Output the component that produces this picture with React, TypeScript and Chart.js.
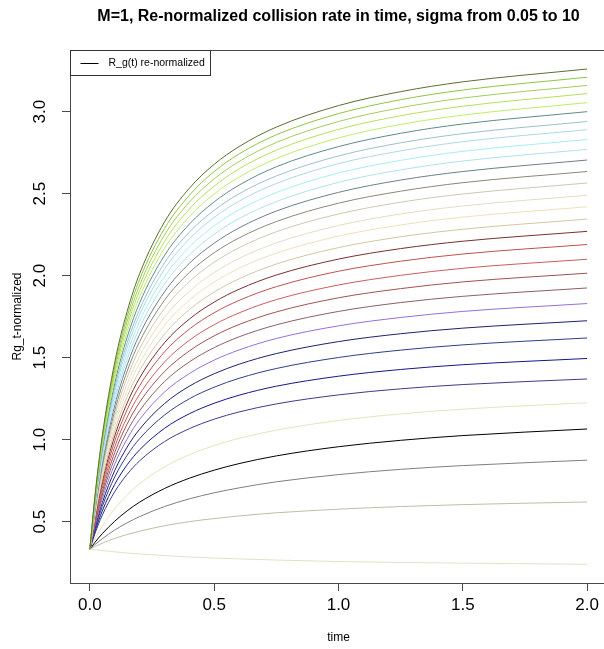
import React, { useEffect, useRef } from 'react';
import { Chart, registerables } from 'chart.js';

Chart.register(...registerables);

// Sample times (x) shared by every curve
const TIMES = [0, 0.02, 0.05, 0.1, 0.15, 0.2, 0.3, 0.4, 0.5, 0.6, 0.75, 1.0, 1.25, 1.5, 2.0];

// Re-normalized collision rate for each sigma, highest curve first
const rg01 = [0.333, 0.652, 1.027, 1.472, 1.783, 2.012, 2.327, 2.533, 2.679, 2.787, 2.906, 3.037, 3.122, 3.182, 3.26];
const rg02 = [0.333, 0.644, 1.011, 1.447, 1.752, 1.977, 2.287, 2.490, 2.635, 2.742, 2.859, 2.988, 3.073, 3.132, 3.21];
const rg03 = [0.333, 0.637, 0.995, 1.422, 1.721, 1.942, 2.248, 2.448, 2.590, 2.696, 2.812, 2.940, 3.024, 3.083, 3.16];
const rg04 = [0.333, 0.629, 0.979, 1.397, 1.691, 1.908, 2.208, 2.406, 2.546, 2.651, 2.765, 2.892, 2.975, 3.033, 3.11];
const rg05 = [0.333, 0.621, 0.962, 1.370, 1.658, 1.871, 2.166, 2.360, 2.498, 2.601, 2.714, 2.840, 2.922, 2.979, 3.055];
const rg06 = [0.333, 0.613, 0.945, 1.344, 1.625, 1.834, 2.123, 2.314, 2.450, 2.552, 2.664, 2.787, 2.868, 2.925, 3.00];
const rg07 = [0.333, 0.605, 0.927, 1.316, 1.590, 1.794, 2.078, 2.265, 2.399, 2.499, 2.608, 2.730, 2.810, 2.866, 2.94];
const rg08 = [0.333, 0.598, 0.912, 1.292, 1.560, 1.761, 2.039, 2.224, 2.355, 2.454, 2.562, 2.683, 2.761, 2.817, 2.89];
const rg09 = [0.333, 0.590, 0.895, 1.264, 1.526, 1.722, 1.994, 2.175, 2.304, 2.401, 2.507, 2.626, 2.703, 2.758, 2.83];
const rg10 = [0.333, 0.581, 0.877, 1.237, 1.492, 1.683, 1.949, 2.126, 2.253, 2.348, 2.452, 2.569, 2.645, 2.699, 2.77];
const rg11 = [0.333, 0.573, 0.859, 1.208, 1.456, 1.642, 1.901, 2.075, 2.198, 2.291, 2.394, 2.508, 2.583, 2.635, 2.705];
const rg12 = [0.333, 0.564, 0.840, 1.177, 1.418, 1.598, 1.850, 2.019, 2.140, 2.230, 2.330, 2.442, 2.515, 2.567, 2.635];
const rg13 = [0.333, 0.555, 0.821, 1.147, 1.380, 1.555, 1.800, 1.964, 2.082, 2.170, 2.268, 2.376, 2.448, 2.498, 2.565];
const rg14 = [0.333, 0.546, 0.802, 1.115, 1.340, 1.509, 1.746, 1.905, 2.019, 2.105, 2.200, 2.306, 2.376, 2.425, 2.49];
const rg15 = [0.333, 0.537, 0.783, 1.085, 1.302, 1.466, 1.696, 1.851, 1.961, 2.045, 2.137, 2.241, 2.309, 2.357, 2.42];
const rg16 = [0.333, 0.528, 0.764, 1.054, 1.263, 1.421, 1.643, 1.793, 1.900, 1.981, 2.071, 2.171, 2.237, 2.283, 2.345];
const rg17 = [0.333, 0.520, 0.745, 1.023, 1.224, 1.376, 1.591, 1.735, 1.839, 1.917, 2.004, 2.101, 2.165, 2.210, 2.27];
const rg18 = [0.333, 0.510, 0.725, 0.991, 1.183, 1.329, 1.535, 1.674, 1.774, 1.849, 1.933, 2.027, 2.088, 2.132, 2.19];
const rg19 = [0.333, 0.500, 0.704, 0.956, 1.138, 1.277, 1.473, 1.606, 1.701, 1.773, 1.854, 1.943, 2.002, 2.045, 2.10];
const rg20 = [0.333, 0.491, 0.683, 0.922, 1.096, 1.228, 1.415, 1.541, 1.633, 1.702, 1.779, 1.865, 1.921, 1.962, 2.015];
const rg21 = [0.333, 0.481, 0.662, 0.887, 1.051, 1.176, 1.354, 1.474, 1.561, 1.627, 1.700, 1.782, 1.836, 1.874, 1.925];
const rg22 = [0.333, 0.471, 0.640, 0.851, 1.005, 1.123, 1.290, 1.403, 1.485, 1.547, 1.617, 1.694, 1.745, 1.782, 1.83];
const rg23 = [0.333, 0.461, 0.616, 0.812, 0.955, 1.064, 1.220, 1.326, 1.402, 1.460, 1.525, 1.598, 1.646, 1.680, 1.725];
const rg24 = [0.333, 0.450, 0.593, 0.773, 0.905, 1.006, 1.150, 1.249, 1.320, 1.374, 1.434, 1.501, 1.546, 1.578, 1.62];
const rg25 = [0.333, 0.438, 0.566, 0.728, 0.847, 0.938, 1.069, 1.158, 1.222, 1.271, 1.326, 1.387, 1.428, 1.457, 1.495];
const rg26 = [0.333, 0.426, 0.540, 0.683, 0.789, 0.871, 0.988, 1.067, 1.125, 1.169, 1.218, 1.273, 1.310, 1.336, 1.37];
const rg27 = [0.333, 0.394, 0.473, 0.579, 0.663, 0.731, 0.834, 0.908, 0.964, 1.008, 1.058, 1.117, 1.157, 1.186, 1.225];
const rg28 = [0.333, 0.373, 0.427, 0.503, 0.566, 0.619, 0.702, 0.765, 0.814, 0.854, 0.901, 0.957, 0.996, 1.025, 1.065];
const rg29 = [0.333, 0.360, 0.396, 0.449, 0.493, 0.531, 0.592, 0.639, 0.676, 0.706, 0.743, 0.787, 0.819, 0.842, 0.875];
const rg30 = [0.333, 0.348, 0.369, 0.398, 0.422, 0.442, 0.475, 0.500, 0.519, 0.535, 0.554, 0.576, 0.592, 0.604, 0.62];
const rg31 = [0.333, 0.329, 0.324, 0.316, 0.309, 0.303, 0.293, 0.285, 0.278, 0.273, 0.266, 0.257, 0.251, 0.247, 0.24];

const SERIES = [
  rg01, rg02, rg03, rg04, rg05, rg06, rg07, rg08, rg09, rg10, rg11,
  rg12, rg13, rg14, rg15, rg16, rg17, rg18, rg19, rg20, rg21, rg22,
  rg23, rg24, rg25, rg26, rg27, rg28, rg29, rg30, rg31,
];

const LINE_COLORS = [
  '#5a6e32', '#8cc63f', '#a2cd5a', '#b4e05a', '#bcee68',
  '#5f8a8b', '#9ac0cd', '#add8e6', '#a4eef5', '#b2dfee',
  '#6c8088', '#8b8878', '#cdc8b1', '#e6dcc4', '#efdfbb',
  '#d0c8a0', '#7b2e2e', '#c0504d', '#cd5c5c', '#a0524f',
  '#8b5f65', '#9370db', '#1f1f6e', '#2c3f88', '#15158a',
  '#3e3a8a', '#e6e2bf', '#000000', '#7f7f7f', '#c1bda0',
  '#e3e1c2',
];

const X_TICKS = [0, 0.5, 1.0, 1.5, 2.0];
const Y_TICKS = [0.5, 1.0, 1.5, 2.0, 2.5, 3.0];

const TITLE = 'M=1, Re-normalized collision rate in time, sigma from 0.05 to 10';
const X_TITLE = 'time';
const Y_TITLE = 'Rg_t-normalized';
const LEGEND_LABEL = 'R_g(t) re-normalized';

const FONT = '"Liberation Sans", Arial, Helvetica, sans-serif';

// Plot frame, main title and the single-entry legend
const framePlugin = {
  id: 'rframe',
  afterDraw(chart: any) {
    const { ctx, chartArea: a } = chart;
    ctx.save();
    ctx.strokeStyle = '#4a4a4a';
    ctx.lineWidth = 1;
    const l = Math.round(a.left) + 0.5;
    const t = Math.round(a.top) + 0.5;
    const r = Math.round(a.right) + 0.5;
    const b = Math.round(a.bottom) + 0.5;
    ctx.strokeRect(l, t, r - l, b - t);

    // title
    ctx.fillStyle = '#000000';
    ctx.font = `bold 16px ${FONT}`;
    ctx.textAlign = 'center';
    ctx.textBaseline = 'middle';
    ctx.fillText(TITLE, (a.left + a.right) / 2, 17);

    // legend box
    const bw = 140;
    const bh = 25;
    ctx.fillStyle = '#ffffff';
    ctx.fillRect(l, t, bw, bh);
    ctx.strokeStyle = '#333333';
    ctx.strokeRect(l, t, bw, bh);
    ctx.strokeStyle = '#000000';
    ctx.beginPath();
    ctx.moveTo(l + 10, t + 13);
    ctx.lineTo(l + 28, t + 13);
    ctx.stroke();
    ctx.fillStyle = '#000000';
    ctx.font = `10.5px ${FONT}`;
    ctx.textAlign = 'left';
    ctx.textBaseline = 'middle';
    ctx.fillText(LEGEND_LABEL, l + 38, t + 13);
    ctx.restore();
  },
};

export default function App() {
  const canvasRef = useRef<HTMLCanvasElement | null>(null);

  useEffect(() => {
    document.body.style.margin = '0';
    const canvas = canvasRef.current;
    if (!canvas) return;

    const datasets = SERIES.map((vals, i) => ({
      label: LEGEND_LABEL,
      data: TIMES.map((t, j) => ({ x: t, y: vals[j] })),
      borderColor: LINE_COLORS[i],
      backgroundColor: LINE_COLORS[i],
      borderWidth: 1,
      pointRadius: 0,
      fill: false,
      cubicInterpolationMode: 'monotone' as const,
    }));

    const chart = new Chart(canvas, {
      type: 'line',
      data: { datasets },
      plugins: [framePlugin],
      options: {
        animation: false,
        responsive: false,
        devicePixelRatio: 1,
        layout: { padding: { top: 50, right: 17, left: 0, bottom: 0 } },
        plugins: {
          legend: { display: false },
          title: { display: false },
          tooltip: { enabled: false },
        },
        scales: {
          x: {
            type: 'linear',
            min: -0.08,
            max: 2.08,
            afterBuildTicks: (s: any) => {
              s.ticks = X_TICKS.map((v) => ({ value: v }));
            },
            afterFit: (s: any) => {
              s.height = 66;
            },
            grid: {
              drawOnChartArea: false,
              drawTicks: true,
              tickLength: 8,
              color: '#4a4a4a',
            },
            border: { display: false },
            ticks: {
              color: '#000000',
              font: { family: FONT, size: 17 },
              padding: 4,
              maxRotation: 0,
              callback: (v: any) => Number(v).toFixed(1),
            },
            title: {
              display: true,
              text: X_TITLE,
              color: '#000000',
              font: { family: FONT, size: 12 },
              padding: { top: 0, bottom: 4 },
            },
          },
          y: {
            type: 'linear',
            min: 0.126,
            max: 3.376,
            afterBuildTicks: (s: any) => {
              s.ticks = Y_TICKS.map((v) => ({ value: v }));
            },
            afterFit: (s: any) => {
              s.width = 70;
            },
            grid: {
              drawOnChartArea: false,
              drawTicks: true,
              tickLength: 8,
              color: '#4a4a4a',
            },
            border: { display: false },
            ticks: {
              color: '#000000',
              font: { family: FONT, size: 17 },
              padding: 10,
              minRotation: 90,
              maxRotation: 90,
              crossAlign: 'center',
              callback: (v: any) => Number(v).toFixed(1),
            },
            title: {
              display: true,
              text: Y_TITLE,
              color: '#000000',
              font: { family: FONT, size: 12 },
              padding: { top: 10, bottom: 0 },
            },
          },
        },
      },
    });

    return () => chart.destroy();
  }, []);

  return (
    <div
      style={{
        position: 'absolute',
        left: 0,
        top: 0,
        width: 604,
        height: 649,
        overflow: 'hidden',
        background: '#ffffff',
      }}
    >
      <canvas
        ref={canvasRef}
        width={624}
        height={649}
        style={{ display: 'block', width: 624, height: 649 }}
      />
    </div>
  );
}
